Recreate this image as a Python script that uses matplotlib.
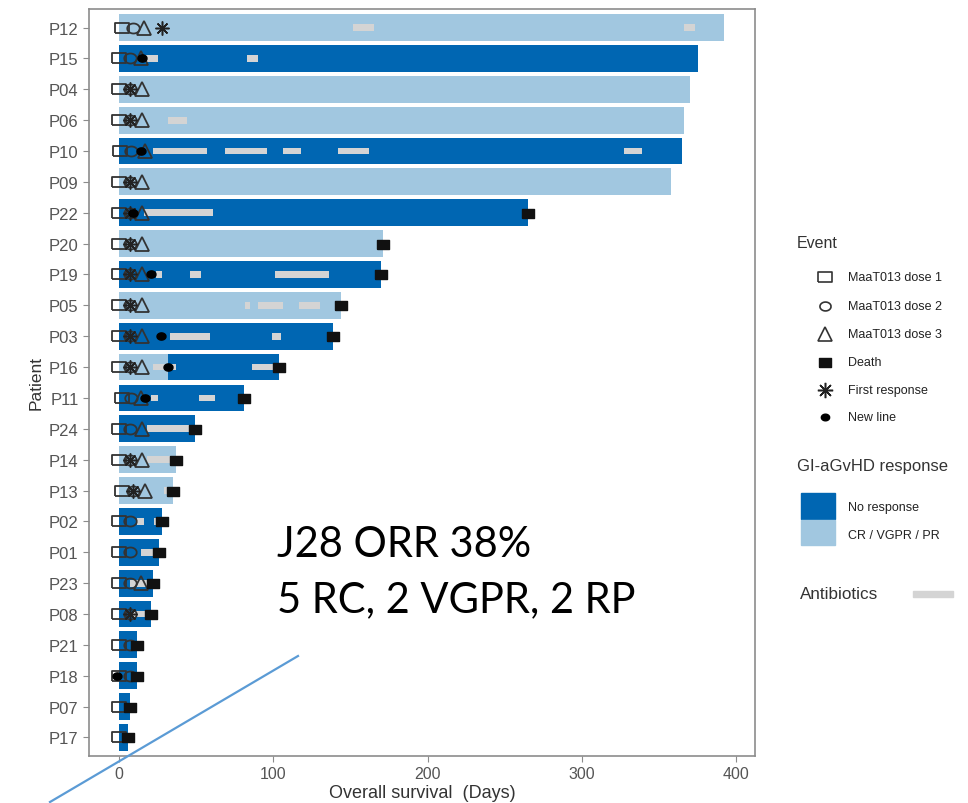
import numpy as np
import matplotlib
matplotlib.use('Agg')
import matplotlib.pyplot as plt

plt.rcParams['font.family'] = ['Liberation Sans', 'DejaVu Sans']

# Patients from top to bottom, with overall survival in days
patients = ['P12', 'P15', 'P04', 'P06', 'P10', 'P09', 'P22', 'P20', 'P19', 'P05', 'P03', 'P16',
            'P11', 'P24', 'P14', 'P13', 'P02', 'P01', 'P23', 'P08', 'P21', 'P18', 'P07', 'P17']
survival = [392, 375, 370, 366, 365, 358, 265, 171, 170, 144, 139, 104,
            81, 49, 37, 35, 28, 26, 22, 21, 12, 12, 7, 6]
# 'R' = CR / VGPR / PR, 'N' = no response
response = ['R', 'N', 'R', 'R', 'N', 'R', 'N', 'R', 'N', 'R', 'N', 'R',
            'N', 'N', 'R', 'R', 'N', 'N', 'N', 'N', 'N', 'N', 'N', 'N']
# P16 responded first, then lost response at day 32
response_lost = {'P16': 32}
died = [False] * 6 + [True] * 18

dose1 = {'P12': 2, 'P15': 0, 'P04': 0, 'P06': 0, 'P10': 1, 'P09': 0, 'P22': 0, 'P20': 0,
         'P19': 0, 'P05': 0, 'P03': 0, 'P16': 0, 'P11': 2, 'P24': 0, 'P14': 0, 'P13': 2,
         'P02': 0, 'P01': 0, 'P23': 0, 'P08': 0, 'P21': 0, 'P18': 0, 'P07': 0, 'P17': 0}
dose2 = {'P12': 9, 'P15': 7, 'P04': 7, 'P06': 7, 'P10': 8, 'P09': 7, 'P22': 7, 'P20': 7,
         'P19': 7, 'P05': 7, 'P03': 7, 'P16': 7, 'P11': 8, 'P24': 7, 'P14': 7, 'P13': 9,
         'P02': 7, 'P01': 7, 'P23': 7, 'P08': 7, 'P21': 7, 'P18': 7}
dose3 = {'P12': 16, 'P15': 14, 'P04': 15, 'P06': 15, 'P10': 17, 'P09': 15, 'P22': 15, 'P20': 15,
         'P19': 15, 'P05': 15, 'P03': 15, 'P16': 15, 'P11': 14, 'P24': 15, 'P14': 15, 'P13': 17,
         'P23': 14}
first_response = {'P12': 28, 'P04': 7, 'P06': 7, 'P09': 7, 'P22': 7, 'P20': 7, 'P19': 7,
                  'P05': 7, 'P03': 7, 'P16': 7, 'P14': 7, 'P13': 9, 'P08': 7}
new_line = {'P15': 15, 'P10': 14, 'P22': 9, 'P19': 21, 'P03': 27, 'P16': 32, 'P11': 17, 'P18': -1}

antibiotics = {
    'P12': [(152, 165), (366, 373)],
    'P15': [(16, 25), (83, 90)],
    'P06': [(32, 44)],
    'P10': [(22, 57), (69, 96), (106, 118), (142, 162), (327, 339)],
    'P22': [(16, 61)],
    'P19': [(24, 28), (46, 53), (101, 136)],
    'P05': [(82, 85), (90, 106), (117, 130)],
    'P03': [(33, 59), (99, 105)],
    'P16': [(22, 37), (86, 102)],
    'P11': [(21, 25), (52, 62)],
    'P24': [(18, 49)],
    'P14': [(18, 35)],
    'P13': [(29, 32)],
    'P02': [(12, 16), (23, 26)],
    'P01': [(14, 23)],
    'P23': [(7, 18)],
    'P08': [(9, 18)],
}

dark_blue = '#0066b2'
light_blue = '#a1c7e0'
abx_grey = '#d4d4d4'
axis_grey = '#8c8c8c'
text_grey = '#555555'

# wide rectangle / ellipse shapes for the markers
rect = [(-1, -0.72), (1, -0.72), (1, 0.72), (-1, 0.72), (-1, -0.72)]
t = np.linspace(0, 2 * np.pi, 40)
ellipse = list(zip(np.cos(t), 0.8 * np.sin(t)))
asterisk = (8, 2, 0)

fig = plt.figure(figsize=(9.68, 8.04), dpi=100)
ax = fig.add_axes([89 / 968, 1 - 757 / 804, 666 / 968, 747 / 804])

n = len(patients)
ypos = {p: n - 1 - i for i, p in enumerate(patients)}
bar_h = 0.87

for i, p in enumerate(patients):
    y = ypos[p]
    color = light_blue if response[i] == 'R' else dark_blue
    if p in response_lost:
        cut = response_lost[p]
        ax.barh(y, cut, height=bar_h, left=0, color=light_blue, zorder=1)
        ax.barh(y, survival[i] - cut, height=bar_h, left=cut, color=dark_blue, zorder=1)
    else:
        ax.barh(y, survival[i], height=bar_h, left=0, color=color, zorder=1)
    for start, end in antibiotics.get(p, []):
        ax.barh(y, end - start, height=0.22, left=start, color=abx_grey, zorder=2)

mk = dict(linestyle='none', zorder=4)
for p, d in dose1.items():
    ax.plot(d, ypos[p], marker=rect, markersize=10, mfc='none', mec='#333333', mew=1.3, **mk)
for p, d in dose2.items():
    ax.plot(d, ypos[p], marker=ellipse, markersize=9, mfc='none', mec='#333333', mew=1.3, **mk)
for p, d in dose3.items():
    ax.plot(d, ypos[p], marker='^', markersize=10, mfc='none', mec='#333333', mew=1.3, **mk)
for p, d in first_response.items():
    ax.plot(d, ypos[p], marker=asterisk, markersize=10, mec='#222222', mew=1.1, **mk)
for p, d in new_line.items():
    ax.plot(d, ypos[p], marker=ellipse, markersize=6.5, mfc='black', mec='black', **mk)
for i, p in enumerate(patients):
    if died[i]:
        ax.plot(survival[i], ypos[p], marker=rect, markersize=9, mfc='#111111', mec='#111111', **mk)

ax.set_xlim(-19.4, 412.2)
ax.set_ylim(-0.6, n - 0.4)
ax.set_yticks(range(n))
ax.set_yticklabels(patients[::-1])
ax.set_xticks([0, 100, 200, 300, 400])
ax.tick_params(axis='y', labelsize=12, colors=axis_grey, labelcolor=text_grey, length=4)
ax.tick_params(axis='x', labelsize=11.5, colors=axis_grey, labelcolor=text_grey, length=4)
for s in ax.spines.values():
    s.set_color(axis_grey)
    s.set_linewidth(1.2)
ax.set_xlabel('Overall survival  (Days)', fontsize=13, color='#333333', labelpad=2)
ax.set_ylabel('Patient', fontsize=12.5, color='#333333', labelpad=4)

# overlay in pixel coordinates for the legend and annotation
ov = fig.add_axes([0, 0, 1, 1], zorder=5)
ov.set_xlim(0, 968)
ov.set_ylim(804, 0)
ov.axis('off')
ov.patch.set_alpha(0)

ov.text(797, 243, 'Event', fontsize=11.5, color='#333333', va='center')
legend_events = ['MaaT013 dose 1', 'MaaT013 dose 2', 'MaaT013 dose 3', 'Death', 'First response', 'New line']
legend_y = [278, 307, 335, 363, 391, 418]
styles = [
    dict(marker=rect, markersize=10, mfc='none', mec='#333333', mew=1.2),
    dict(marker=ellipse, markersize=8, mfc='none', mec='#333333', mew=1.2),
    dict(marker='^', markersize=10, mfc='none', mec='#333333', mew=1.2),
    dict(marker=rect, markersize=9, mfc='#111111', mec='#111111'),
    dict(marker=asterisk, markersize=11, mec='#222222', mew=1.1),
    dict(marker=ellipse, markersize=6, mfc='black', mec='black'),
]
for label, yy, st in zip(legend_events, legend_y, styles):
    ov.plot(825, yy, linestyle='none', **st)
    ov.text(848, yy, label, fontsize=9, color='#222222', va='center')

ov.text(797, 467, 'GI-aGvHD response', fontsize=12, color='#333333', va='center')
ov.add_patch(plt.Rectangle((801, 494), 34, 26, color=dark_blue))
ov.add_patch(plt.Rectangle((801, 521), 34, 25, color=light_blue))
ov.text(848, 508, 'No response', fontsize=9, color='#222222', va='center')
ov.text(848, 536, 'CR / VGPR / PR', fontsize=9, color='#222222', va='center')

ov.text(800, 595, 'Antibiotics', fontsize=12.3, color='#333333', va='center')
ov.add_patch(plt.Rectangle((913, 592), 40, 6, color=abx_grey))

ov.text(277, 545, 'J28 ORR 38%', fontsize=30, family=['Lato', 'DejaVu Sans'], color='black', va='center')
ov.text(277, 600, '5 RC, 2 VGPR, 2 RP', fontsize=30, family=['Lato', 'DejaVu Sans'], color='black', va='center')

ov.plot([50, 298], [803, 657], color='#5b9bd5', linewidth=1.6)

fig.savefig('out.png', dpi=100)
